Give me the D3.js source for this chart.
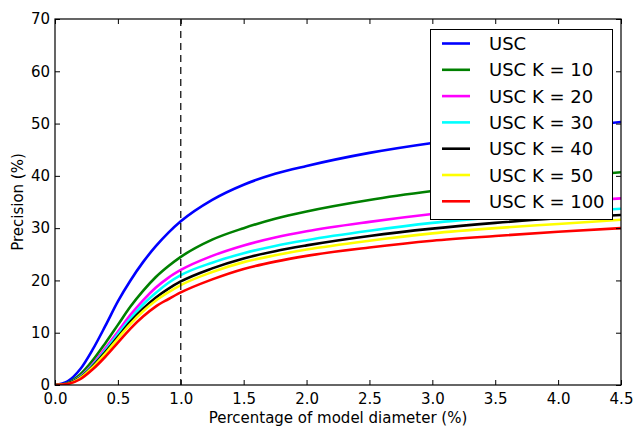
<!DOCTYPE html>
<html>
<head>
<meta charset="utf-8">
<script src="https://cdn.jsdelivr.net/npm/d3@7/dist/d3.min.js"></script>
<style>
  html, body { margin: 0; padding: 0; background: #fff; }
  svg { display: block; font-family: "DejaVu Sans", sans-serif; }
</style>
</head>
<body>
<svg id="chart" width="636" height="428"></svg>
<script>
// Sample positions along the x axis (percentage of model diameter)
const xs = [0, 0.1, 0.2, 0.3, 0.4, 0.5, 0.6, 0.7, 0.8, 0.9, 1.0, 1.25, 1.5, 1.75, 2.0, 2.5, 3.0, 3.5, 4.0, 4.5];

// Precision (%) for each method at the sample positions
const usc     = [0, 0.7, 3.0, 6.8, 11.3, 16.0, 20.0, 23.5, 26.5, 29.1, 31.3, 35.4, 38.3, 40.4, 41.9, 44.4, 46.3, 47.8, 49.1, 50.3];
const uscK10  = [0, 0.4, 2.0, 4.7, 8.0, 11.5, 15.0, 18.0, 20.6, 22.7, 24.5, 27.8, 30.0, 31.8, 33.2, 35.4, 37.1, 38.5, 39.7, 40.7];
const uscK20  = [0, 0.3, 1.6, 4.0, 7.0, 10.2, 13.4, 16.2, 18.6, 20.5, 22.0, 24.7, 26.7, 28.2, 29.4, 31.2, 32.7, 33.9, 34.9, 35.7];
const uscK30  = [0, 0.3, 1.5, 3.8, 6.6, 9.7, 12.7, 15.4, 17.6, 19.5, 21.0, 23.4, 25.2, 26.6, 27.7, 29.5, 31.0, 32.1, 33.0, 33.7];
const uscK40  = [0, 0.3, 1.4, 3.6, 6.3, 9.2, 12.1, 14.6, 16.7, 18.4, 19.8, 22.3, 24.2, 25.6, 26.7, 28.5, 29.9, 31.0, 31.9, 32.5];
const uscK50  = [0, 0.2, 1.3, 3.4, 6.0, 8.9, 11.7, 14.1, 16.1, 17.7, 19.1, 21.6, 23.5, 24.8, 25.9, 27.6, 29.0, 30.0, 30.8, 31.6];
const uscK100 = [0, 0.2, 1.1, 3.0, 5.4, 8.1, 10.8, 13.1, 15.0, 16.4, 17.7, 20.2, 22.2, 23.6, 24.7, 26.3, 27.6, 28.5, 29.3, 30.0];

const seriesNames  = ["USC", "USC K = 10", "USC K = 20", "USC K = 30", "USC K = 40", "USC K = 50", "USC K = 100"];
const seriesValues = [usc, uscK10, uscK20, uscK30, uscK40, uscK50, uscK100];
const seriesColors = ["#0000ff", "#008000", "#ff00ff", "#00ffff", "#000000", "#ffff00", "#ff0000"];

const xTicks = [0, 0.5, 1.0, 1.5, 2.0, 2.5, 3.0, 3.5, 4.0, 4.5];
const yTicks = [0, 10, 20, 30, 40, 50, 60, 70];
const markerX = 1.0;

const svg = d3.select("#chart");
const margin = { left: 55, right: 15, top: 19, bottom: 43 };
const W = 636, H = 428;
const x = d3.scaleLinear().domain([0, 4.5]).range([margin.left, W - margin.right]);
const y = d3.scaleLinear().domain([0, 70]).range([H - margin.bottom, margin.top]);

const plot = svg.append("g");
plot.append("clipPath").attr("id", "clip")
  .append("rect")
  .attr("x", x(0)).attr("y", y(70))
  .attr("width", x(4.5) - x(0)).attr("height", y(0) - y(70));

// Curves
const line = d3.line()
  .x(d => x(d[0]))
  .y(d => y(d[1]))
  .curve(d3.curveMonotoneX);

const curves = plot.append("g").attr("clip-path", "url(#clip)");
seriesValues.forEach((vals, i) => {
  curves.append("path")
    .datum(xs.map((xv, j) => [xv, vals[j]]))
    .attr("d", line)
    .attr("fill", "none")
    .attr("stroke", seriesColors[i])
    .attr("stroke-width", 2.6)
    .attr("stroke-linejoin", "round");
});

// Dashed reference line
plot.append("line")
  .attr("x1", x(markerX)).attr("x2", x(markerX))
  .attr("y1", y(70)).attr("y2", y(0))
  .attr("stroke", "#000").attr("stroke-width", 1.2)
  .attr("stroke-dasharray", "7,5");

// Axes with inward ticks on all four sides
const tickLen = 5;
const axBottom = d3.axisBottom(x).tickValues(xTicks).tickFormat(d3.format(".1f")).tickSizeInner(-tickLen).tickSizeOuter(0).tickPadding(8);
const axTop = d3.axisTop(x).tickValues(xTicks).tickFormat("").tickSizeInner(-tickLen).tickSizeOuter(0);
const axLeft = d3.axisLeft(y).tickValues(yTicks).tickFormat(d3.format("d")).tickSizeInner(-tickLen).tickSizeOuter(0).tickPadding(5);
const axRight = d3.axisRight(y).tickValues(yTicks).tickFormat("").tickSizeInner(-tickLen).tickSizeOuter(0);

function styleAxis(g) {
  g.select(".domain").remove();
  g.selectAll(".tick line").attr("stroke", "#000").attr("stroke-width", 1);
  g.selectAll(".tick text").attr("fill", "#000").attr("font-size", 15).attr("font-family", "DejaVu Sans");
}
svg.append("g").attr("transform", `translate(0,${y(0)})`).call(axBottom).call(styleAxis);
svg.append("g").attr("transform", `translate(0,${y(70)})`).call(axTop).call(styleAxis);
svg.append("g").attr("transform", `translate(${x(0)},0)`).call(axLeft).call(styleAxis);
svg.append("g").attr("transform", `translate(${x(4.5)},0)`).call(axRight).call(styleAxis);

// Frame
svg.append("rect")
  .attr("x", x(0)).attr("y", y(70))
  .attr("width", x(4.5) - x(0)).attr("height", y(0) - y(70))
  .attr("fill", "none").attr("stroke", "#000").attr("stroke-width", 1.2);

// Axis titles
svg.append("text")
  .attr("x", (x(0) + x(4.5)) / 2).attr("y", 423)
  .attr("text-anchor", "middle").attr("font-size", 15)
  .text("Percentage of model diameter (%)");
svg.append("text")
  .attr("transform", `translate(23,${(y(0) + y(70)) / 2}) rotate(-90)`)
  .attr("text-anchor", "middle").attr("font-size", 15)
  .text("Precision (%)");

// Legend
const legend = svg.append("g");
legend.append("rect")
  .attr("x", 430.5).attr("y", 29.5).attr("width", 182).attr("height", 190)
  .attr("fill", "#fff").attr("stroke", "#000").attr("stroke-width", 1);
seriesNames.forEach((name, i) => {
  const cy = 43.5 + i * 26.3;
  legend.append("line")
    .attr("x1", 442).attr("x2", 470).attr("y1", cy).attr("y2", cy)
    .attr("stroke", seriesColors[i]).attr("stroke-width", 2.6);
  legend.append("text")
    .attr("x", 489).attr("y", cy + 6.6)
    .attr("font-size", 18)
    .text(name);
});
</script>
</body>
</html>
